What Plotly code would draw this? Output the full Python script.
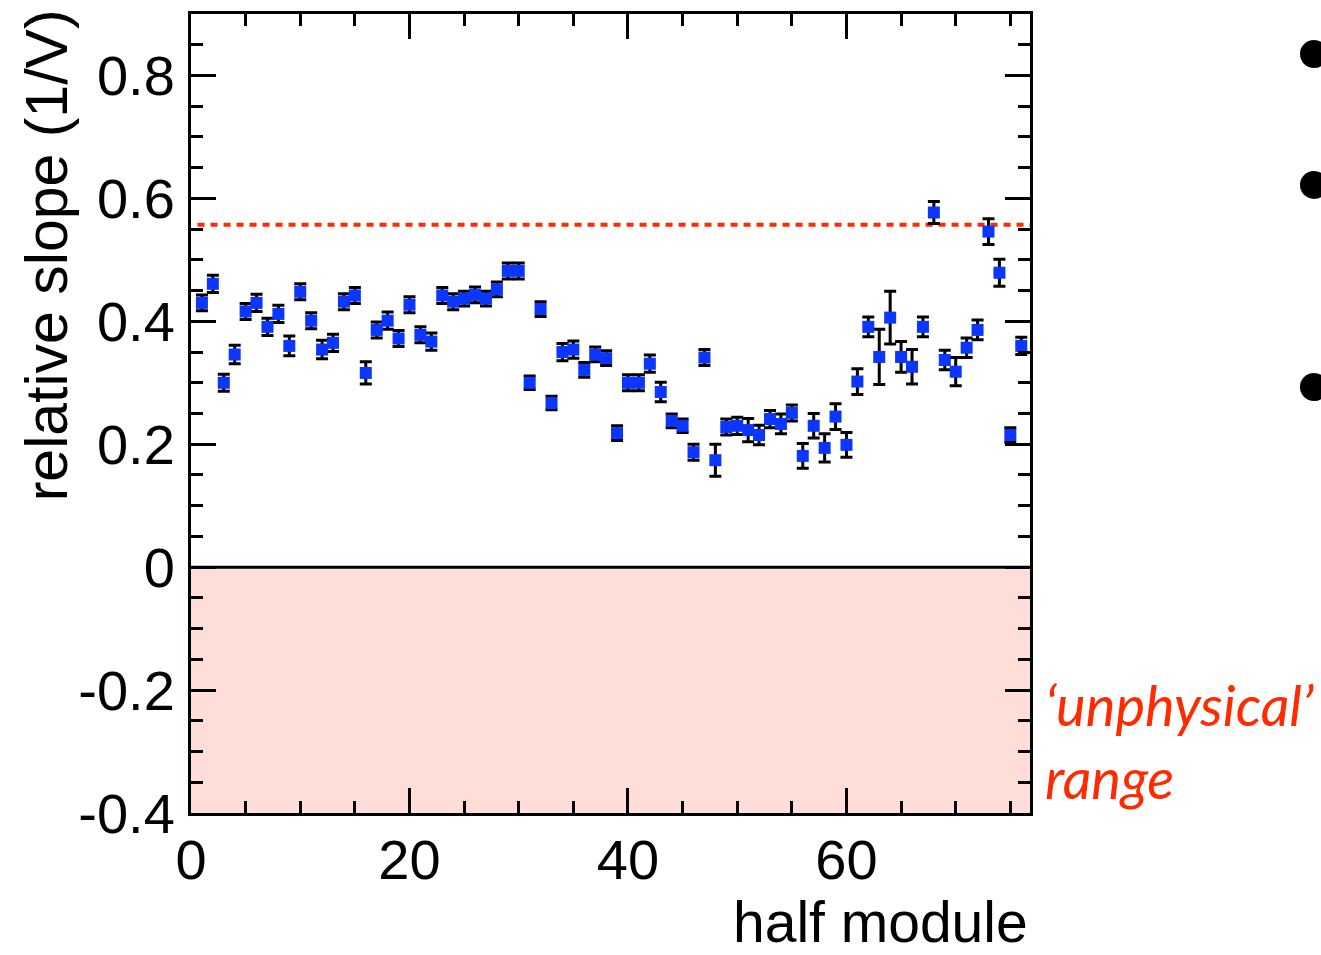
import plotly.graph_objects as go

# ---- data ----
half_module = list(range(1, 77))
relative_slope = [
    0.430, 0.461, 0.300, 0.346, 0.416, 0.430, 0.391, 0.412, 0.360, 0.448,
    0.401, 0.354, 0.365, 0.432, 0.442, 0.316, 0.386, 0.401, 0.372, 0.427,
    0.378, 0.367, 0.442, 0.432, 0.437, 0.443, 0.437, 0.452, 0.482, 0.482,
    0.300, 0.420, 0.267, 0.350, 0.354, 0.321, 0.346, 0.340, 0.218, 0.300,
    0.300, 0.331, 0.285, 0.238, 0.230, 0.187, 0.341, 0.174, 0.228, 0.230,
    0.223, 0.215, 0.241, 0.233, 0.251, 0.181, 0.230, 0.194, 0.245, 0.199,
    0.302, 0.391, 0.342, 0.406, 0.342, 0.326, 0.391, 0.577, 0.337, 0.318,
    0.357, 0.386, 0.546, 0.479, 0.215, 0.360,
]
slope_error = [
    0.013, 0.014, 0.014, 0.015, 0.013, 0.014, 0.014, 0.014, 0.016, 0.013,
    0.013, 0.015, 0.014, 0.013, 0.013, 0.018, 0.013, 0.014, 0.013, 0.013,
    0.013, 0.014, 0.013, 0.013, 0.012, 0.013, 0.012, 0.012, 0.013, 0.013,
    0.011, 0.012, 0.011, 0.014, 0.014, 0.012, 0.012, 0.012, 0.012, 0.013,
    0.013, 0.014, 0.016, 0.011, 0.011, 0.013, 0.013, 0.026, 0.013, 0.014,
    0.019, 0.016, 0.014, 0.016, 0.013, 0.020, 0.020, 0.023, 0.021, 0.020,
    0.021, 0.016, 0.045, 0.043, 0.025, 0.028, 0.016, 0.018, 0.016, 0.023,
    0.016, 0.016, 0.021, 0.022, 0.012, 0.014,
]
threshold = 0.557
unphysical_low = -0.4
unphysical_high = 0.0

x_range = [0, 76.8]
y_range = [-0.4, 0.9]
x_tickvals = [0, 20, 40, 60]
x_ticktext = ["0", "20", "40", "60"]
y_tickvals = [-0.4, -0.2, 0, 0.2, 0.4, 0.6, 0.8]
y_ticktext = ["-0.4", "-0.2", "0", "0.2", "0.4", "0.6", "0.8"]

FONT = "Liberation Sans, Arial, Helvetica, sans-serif"

fig = go.Figure()

# unphysical region
fig.add_shape(type="rect", xref="x domain", yref="y", x0=0, x1=1,
              y0=unphysical_low, y1=unphysical_high,
              fillcolor="#ffddd8", line_width=0, layer="below")

# zero line
fig.add_trace(go.Scatter(x=x_range, y=[unphysical_high, unphysical_high], mode="lines",
                         line=dict(color="black", width=3), hoverinfo="skip",
                         showlegend=False))
# threshold line
fig.add_trace(go.Scatter(x=[0.6, x_range[1]], y=[threshold, threshold], mode="lines",
                         line=dict(color="#ff2a00", width=4, dash="7px,6px"),
                         hoverinfo="skip", showlegend=False))

fig.add_trace(go.Scatter(
    x=half_module, y=relative_slope, mode="markers",
    marker=dict(symbol="square", size=12, color="#0a36ff"),
    error_y=dict(type="data", array=slope_error, visible=True,
                 color="black", thickness=3, width=6),
    showlegend=False,
))

axis_common = dict(
    showline=True, linecolor="black", linewidth=3, mirror="allticks",
    ticks="inside", ticklen=25, tickwidth=3, tickcolor="black",
    showgrid=False, zeroline=False,
    tickfont=dict(family=FONT, size=56, color="black"),
)

fig.update_xaxes(range=x_range, tickmode="array", tickvals=x_tickvals,
                 ticktext=x_ticktext, ticklabelstandoff=-4,
                 minor=dict(dtick=5, ticks="inside", ticklen=12, tickwidth=3,
                            tickcolor="black", showgrid=False),
                 **axis_common)
fig.update_yaxes(range=y_range, tickmode="array", tickvals=y_tickvals,
                 ticktext=y_ticktext, ticklabelstandoff=2,
                 minor=dict(dtick=0.05, tick0=0, ticks="inside", ticklen=12, tickwidth=3,
                            tickcolor="black", showgrid=False),
                 **axis_common)

annotations = [
    dict(text="relative slope (1/V)", textangle=-90, xref="paper", yref="paper",
         x=-0.172, y=1.008, xanchor="center", yanchor="top", showarrow=False,
         font=dict(family=FONT, size=59, color="black")),
    dict(text="half module", xref="paper", yref="paper", x=1.0, y=-0.137,
         xanchor="right", yanchor="middle", showarrow=False,
         font=dict(family=FONT, size=57, color="black")),
    dict(text="<i>‘unphysical’<br>range</i>", xref="paper", yref="paper",
         x=1.015, y=0.18, xanchor="left", yanchor="top", align="left",
         showarrow=False, font=dict(family="Lato, Open Sans, sans-serif", size=56,
                                    color="#ff2a00")),
]

for y0, y1 in [(0.9324, 0.9675), (0.7685, 0.8035), (0.5156, 0.5507)]:
    fig.add_shape(type="circle", xref="paper", yref="paper", x0=1.3218, x1=1.3552,
                  y0=y0, y1=y1, fillcolor="black", line_width=0)

fig.update_layout(
    width=1321, height=955,
    margin=dict(l=191, r=291, t=14, b=142),
    plot_bgcolor="white", paper_bgcolor="white",
    annotations=annotations,
    showlegend=False,
)

fig.write_html("out.html", config={"displayModeBar": False},
               post_script="document.body.style.margin='0';document.body.style.overflow='hidden';")
